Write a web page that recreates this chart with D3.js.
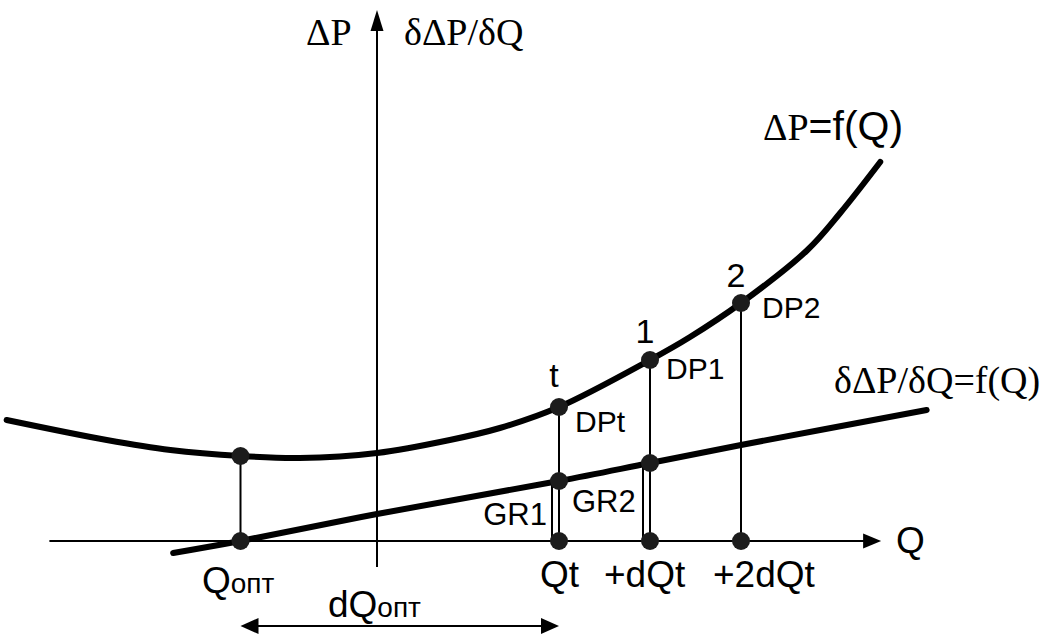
<!DOCTYPE html>
<html>
<head>
<meta charset="utf-8">
<script src="https://cdn.jsdelivr.net/npm/d3@7"></script>
<style>
  html, body { margin: 0; padding: 0; background: #fff; }
  .sans { font-family: "Liberation Sans", Arial, sans-serif; }
  .serif { font-family: "Liberation Serif", "Times New Roman", serif; }
</style>
</head>
<body>
<svg id="chart" width="1048" height="635"></svg>
<script>
// ΔP = f(Q) curve
var curveQ  = [-4.07, -2.97, -2.27, -1.5, -0.85, 0, 0.8, 1.35, 2, 3, 3.44, 4, 4.73, 5.09, 5.53];
var curveDP = [1.21, 1.01, 0.91, 0.85, 0.83, 0.88, 1.01, 1.13, 1.34, 1.81, 2.04, 2.38, 2.91, 3.28, 3.79];

// δΔP/δQ = f(Q) line
var gradQ = [-2.24, -1.5, 0, 2, 3, 4, 6.04];
var gradV = [-0.12, 0, 0.27, 0.6, 0.78, 0.96, 1.31];

// marked flows on the Q axis
var markQ  = [-1.5, 2, 3, 4];
var markDP = [0.85, 1.34, 1.81, 2.38];
var pointNames = ['', 't', '1', '2'];
var dpNames = ['', 'DPt', 'DP1', 'DP2'];
var tickNames = ['Qt', '+dQt', '+2dQt'];

// gradient bars at Qt and Qt+dQt
var grNames = ['GR1', 'GR2'];
var grQ = [2, 3];
var grV = [0.6, 0.78];

// axis extents
var qAxis = [-3.6, 5.54];
var vAxis = [-0.26, 5.31];

var svg = d3.select("#chart");

var x = d3.scaleLinear().domain([-4, 6]).range([13, 923]);
var y = d3.scaleLinear().domain([0, 5.4]).range([541, 1]);

var ink = "#000";

// ---- axes ----
svg.append("line")
    .attr("x1", x(qAxis[0])).attr("x2", x(qAxis[1]) - 16)
    .attr("y1", y(0)).attr("y2", y(0))
    .attr("stroke", ink).attr("stroke-width", 2);
svg.append("path")
    .attr("d", "M" + x(qAxis[1]) + "," + y(0) + "l-18,-7.5v15z")
    .attr("fill", ink);

svg.append("line")
    .attr("x1", x(0)).attr("x2", x(0))
    .attr("y1", y(vAxis[0])).attr("y2", y(vAxis[1]) + 18)
    .attr("stroke", ink).attr("stroke-width", 2);
svg.append("path")
    .attr("d", "M" + x(0) + "," + y(vAxis[1]) + "l-6.5,21h13z")
    .attr("fill", ink);

// ---- thin verticals from the curve down to the axis ----
svg.selectAll(".drop")
  .data(markQ)
  .enter().append("line")
    .attr("x1", function(d) { return x(d); })
    .attr("x2", function(d) { return x(d); })
    .attr("y1", function(d, i) { return y(markDP[i]); })
    .attr("y2", y(0))
    .attr("stroke", ink).attr("stroke-width", 2);

// ---- GR bars ----
svg.selectAll(".gr")
  .data(grQ)
  .enter().append("rect")
    .attr("x", function(d) { return x(d) - 7; })
    .attr("y", function(d, i) { return y(grV[i]); })
    .attr("width", 7)
    .attr("height", function(d, i) { return y(0) - y(grV[i]); })
    .attr("fill", "none")
    .attr("stroke", ink).attr("stroke-width", 2);

// ---- curves ----
var dpLine = d3.line()
    .x(function(d, i) { return x(curveQ[i]); })
    .y(function(d) { return y(d); })
    .curve(d3.curveCatmullRom);

svg.append("path")
    .attr("d", dpLine(curveDP))
    .attr("fill", "none")
    .attr("stroke", ink).attr("stroke-width", 6)
    .attr("stroke-linecap", "round");

var gradLine = d3.line()
    .x(function(d, i) { return x(gradQ[i]); })
    .y(function(d) { return y(d); })
    .curve(d3.curveCatmullRom);

svg.append("path")
    .attr("d", gradLine(gradV))
    .attr("fill", "none")
    .attr("stroke", ink).attr("stroke-width", 6)
    .attr("stroke-linecap", "round");

// ---- dots ----
var dots = [];
markQ.forEach(function(q, i) {
  dots.push([q, markDP[i]]);
  dots.push([q, 0]);
});
grQ.forEach(function(q, i) { dots.push([q, grV[i]]); });

svg.selectAll(".dot")
  .data(dots)
  .enter().append("circle")
    .attr("cx", function(d) { return x(d[0]); })
    .attr("cy", function(d) { return y(d[1]); })
    .attr("r", 9)
    .attr("fill", "#1c1c1c");

// ---- dQопт arrow ----
var ay = 626;
svg.append("line")
    .attr("x1", x(markQ[0]) + 14).attr("x2", x(markQ[1]) - 14)
    .attr("y1", ay).attr("y2", ay)
    .attr("stroke", ink).attr("stroke-width", 2);
svg.append("path")
    .attr("d", "M" + x(markQ[0]) + "," + ay + "l18,-8v16z")
    .attr("fill", ink);
svg.append("path")
    .attr("d", "M" + x(markQ[1]) + "," + ay + "l-18,-8v16z")
    .attr("fill", ink);

// ---- labels ----
function txt(cls, size, px, py, s, anchor) {
  return svg.append("text")
      .attr("class", cls)
      .attr("x", px).attr("y", py)
      .attr("font-size", size)
      .attr("text-anchor", anchor || "start")
      .attr("fill", ink)
      .text(s);
}

// axis titles
txt("serif", 38, 306, 45, "ΔP");
txt("serif", 38, 404, 45, "δΔP/δQ");
txt("sans", 37, 896, 553, "Q");

// series titles
var t1 = svg.append("text").attr("x", 763).attr("y", 140).attr("fill", ink);
t1.append("tspan").attr("class", "serif").attr("font-size", 38).text("ΔP");
t1.append("tspan").attr("class", "sans").attr("font-size", 41).text("=f(Q)");
txt("serif", 38, 834, 393, "δΔP/δQ=f(Q)");

// point names above the curve
var pointDy = [0, -20, -17, -16];
markQ.forEach(function(q, i) {
  if (!pointNames[i]) return;
  txt("sans", 34, x(q) - 5, y(markDP[i]) + pointDy[i], pointNames[i], "middle");
});

// DP labels right of the curve points
var dpDx = [0, 16, 16, 21];
var dpDy = [0, 25, 19, 15];
markQ.forEach(function(q, i) {
  if (!dpNames[i]) return;
  txt("sans", 30, x(q) + dpDx[i], y(markDP[i]) + dpDy[i], dpNames[i]);
});

// GR labels
txt("sans", 31, x(grQ[0]) - 12, 525, grNames[0], "end");
txt("sans", 31, x(grQ[0]) + 13, 512, grNames[1]);

// flow ticks below the axis
var tickX = [540, 604, 713];
tickNames.forEach(function(s, i) {
  txt("sans", 37, tickX[i], 587, s);
});

// Qопт
var qo = svg.append("text").attr("class", "sans")
    .attr("x", 202).attr("y", 593).attr("fill", ink);
qo.append("tspan").attr("font-size", 37).text("Q");
qo.append("tspan").attr("font-size", 28).text("опт");

var dqo = svg.append("text").attr("class", "sans")
    .attr("x", 328).attr("y", 617).attr("fill", ink);
dqo.append("tspan").attr("font-size", 37).text("dQ");
dqo.append("tspan").attr("font-size", 28).text("опт");
</script>
</body>
</html>
